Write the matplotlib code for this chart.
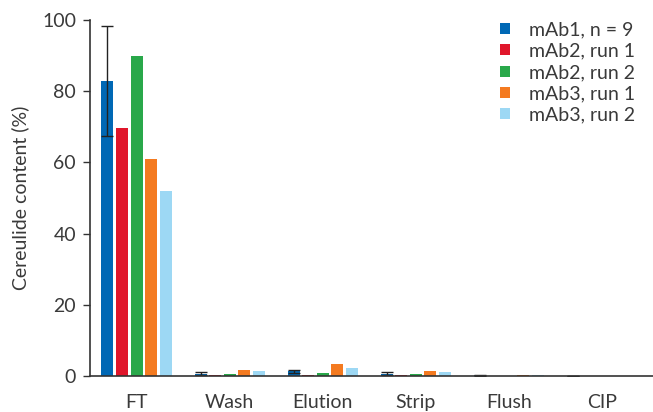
import matplotlib
matplotlib.use("Agg")
import matplotlib.pyplot as plt
import numpy as np

categories = ["FT", "Wash", "Elution", "Strip", "Flush", "CIP"]
series_names = ["mAb1, n = 9", "mAb2, run 1", "mAb2, run 2", "mAb3, run 1", "mAb3, run 2"]
mab1 = [82.8, 0.7, 1.3, 0.7, 0.2, 0.05]
mab1_err = [15.5, 0.3, 0.4, 0.3, 0.1, 0.05]
mab2_run1 = [69.8, 0.3, 0.3, 0.3, 0.05, 0.0]
mab2_run2 = [90.0, 0.6, 0.8, 0.6, 0.05, 0.0]
mab3_run1 = [61.0, 1.7, 3.4, 1.4, 0.25, 0.05]
mab3_run2 = [52.1, 1.4, 2.2, 1.1, 0.2, 0.05]
colors = ["#0068b5", "#e0162b", "#29a84a", "#f47a20", "#9dd8f4"]
yticks = [0, 20, 40, 60, 80, 100]

plt.rcParams['font.family'] = ['Lato', 'DejaVu Sans']
text_color = "#3a3a3a"
fs = 14

fig = plt.figure(figsize=(6.53, 4.12), dpi=100)
ax = fig.add_axes([90/653, 1-376/412, 1-90/653, 356/412])

x = np.arange(len(categories))
pitch = 0.156
width = 0.129
all_series = [mab1, mab2_run1, mab2_run2, mab3_run1, mab3_run2]
for i, (vals, name, c) in enumerate(zip(all_series, series_names, colors)):
    pos = x + (i - 2) * pitch
    if i == 0:
        ax.bar(pos, vals, width=width, color=c, label=name,
               yerr=mab1_err, error_kw=dict(ecolor="#222222", elinewidth=1.0, capsize=4, capthick=1.0))
    else:
        ax.bar(pos, vals, width=width, color=c, label=name)

ax.set_xlim(-0.5, 5.55)
ax.set_ylim(0, 100)
ax.set_yticks(yticks)
ax.set_xticks(x)
ax.set_xticklabels(categories)
ax.tick_params(axis='y', direction='out', length=5, width=1, colors="#333333",
               labelcolor=text_color, labelsize=fs, pad=5)
ax.tick_params(axis='x', length=0, labelcolor=text_color, labelsize=fs, pad=13)
for s in ["top", "right"]:
    ax.spines[s].set_visible(False)
for s in ["left", "bottom"]:
    ax.spines[s].set_color("#333333")
    ax.spines[s].set_linewidth(1.2)
ax.set_ylabel("Cereulide content (%)", color=text_color, fontsize=fs, labelpad=9)

leg = ax.legend(loc="upper right", bbox_to_anchor=(1.0, 1.045), frameon=False,
                fontsize=fs, handlelength=0.5, handleheight=0.5, handletextpad=1.0,
                labelspacing=0.22, labelcolor=text_color)

fig.savefig("out.png", dpi=100)
